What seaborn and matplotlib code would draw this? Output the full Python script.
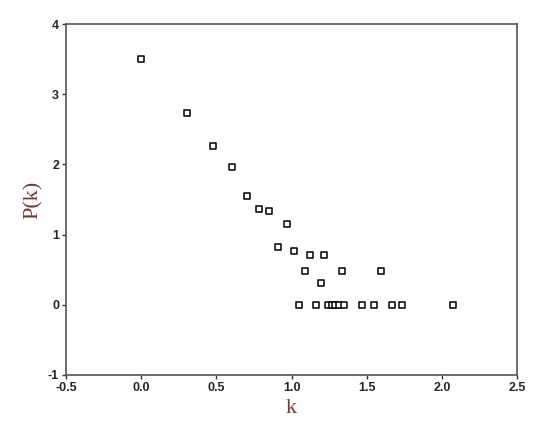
import matplotlib
matplotlib.use('Agg')
import matplotlib.pyplot as plt
import seaborn as sb
import pandas as pd

# log k / log P(k) values
k_vals = [0.00, 0.304, 0.477, 0.603, 0.703, 0.784, 0.852, 0.971, 0.910, 1.018,
          1.120, 1.215, 1.089, 1.338, 1.593, 1.193,
          1.053, 1.164, 1.243, 1.267, 1.292, 1.316, 1.347,
          1.470, 1.549, 1.667, 1.733, 2.075]
pk_vals = [3.50, 2.73, 2.26, 1.97, 1.555, 1.37, 1.34, 1.155, 0.83, 0.77,
           0.71, 0.71, 0.485, 0.485, 0.485, 0.31,
           0.0, 0.0, 0.0, 0.0, 0.0, 0.0, 0.0,
           0.0, 0.0, 0.0, 0.0, 0.0]
x_ticks = [-0.5, 0.0, 0.5, 1.0, 1.5, 2.0, 2.5]
y_ticks = [-1, 0, 1, 2, 3, 4]

df = pd.DataFrame({'k': k_vals, 'P(k)': pk_vals})

sb.set_style('white')
plt.rcParams['font.family'] = ['Liberation Sans', 'DejaVu Sans']
plt.rcParams['axes.unicode_minus'] = False

fig = plt.figure(figsize=(5.5, 4.3), dpi=100)
ax = fig.add_axes([0.12, 0.128, 0.82, 0.816])
sb.scatterplot(x='k', y='P(k)', data=df, ax=ax, marker='s', s=18,
               facecolor='white', edgecolor='black', linewidth=1.1)

ax.set_xlim(-0.5, 2.5)
ax.set_ylim(-1, 4)
ax.set_xticks(x_ticks)
ax.set_xticklabels(['-0.5', '0.0', '0.5', '1.0', '1.5', '2.0', '2.5'])
ax.set_yticks(y_ticks)
ax.tick_params(axis='both', direction='out', length=3, width=1, color='#333333',
               labelsize=9, pad=2, bottom=True, left=True)
for lab in ax.get_xticklabels() + ax.get_yticklabels():
    lab.set_fontweight('bold')
for sp in ax.spines.values():
    sp.set_color('#555555')
    sp.set_linewidth(1.2)

lab_color = '#7a3535'
ax.set_xlabel('k', family='Liberation Serif', fontsize=16, color=lab_color, labelpad=4)
ax.set_ylabel('P(k)', family='Liberation Serif', fontsize=16, color=lab_color, labelpad=4)

fig.savefig('out.png', dpi=100)
